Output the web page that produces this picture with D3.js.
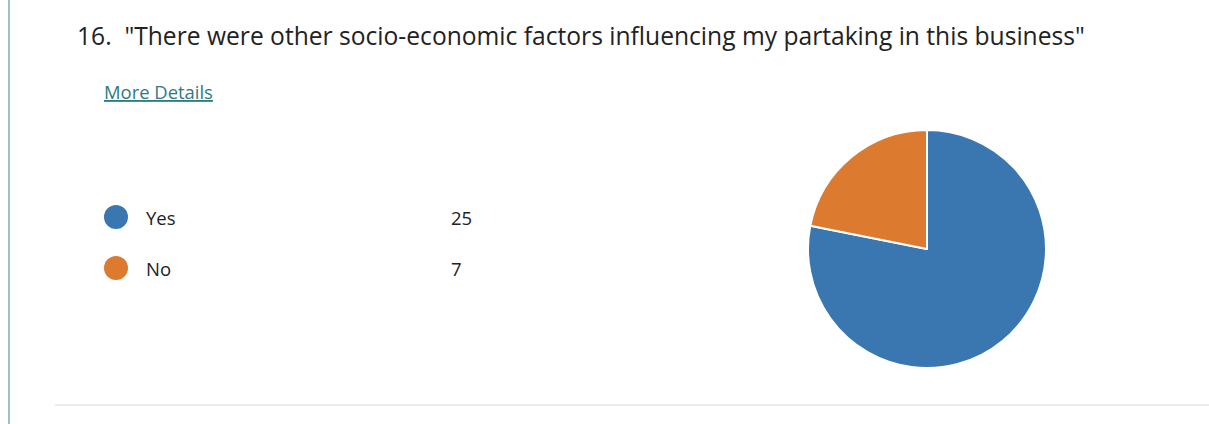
<!DOCTYPE html>
<html><head><meta charset="utf-8">
<script src="https://cdn.jsdelivr.net/npm/d3@7"></script>
<style>html,body{margin:0;padding:0;background:#fff;}</style>
</head><body>
<svg id="chart" width="1209" height="424"></svg>
<script>
const title = '16.  "There were other socio-economic factors influencing my partaking in this business"';
const linkText = "More Details";
const categories = ["Yes", "No"];
const values = [25, 7];
const colors = ["#3a76b0", "#dc7a2f"];

const svg = d3.select("#chart");
const font = "'Open Sans', 'Noto Sans', sans-serif";

// left accent border
svg.append("rect").attr("x", 8).attr("y", 0).attr("width", 2).attr("height", 424).attr("fill", "#9fbfc2");
// bottom divider
svg.append("rect").attr("x", 55).attr("y", 404).attr("width", 1154).attr("height", 2).attr("fill", "#ececec");

// title
const t = svg.append("text").attr("x", 77).attr("y", 45)
  .attr("font-family", font).attr("font-size", 22).attr("fill", "#222")
  .attr("xml:space", "preserve").style("white-space", "pre").text(title);
const tw = t.node().getComputedTextLength();
t.attr("font-size", 22 * 1008 / tw);

// link
const l = svg.append("text").attr("x", 104).attr("y", 99)
  .attr("font-family", font).attr("font-size", 17).attr("fill", "#2e7b80")
  .attr("text-decoration", "underline").text(linkText);
const lw = l.node().getComputedTextLength();
l.attr("font-size", 17 * 109 / lw);

// legend
const y = d3.scalePoint().domain(categories).range([217, 268]);
const leg = svg.append("g").selectAll("g").data(categories).join("g")
  .attr("transform", d => `translate(0,${y(d)})`);
leg.append("circle").attr("cx", 116).attr("r", 12).attr("fill", (d, i) => colors[i]);
leg.append("text").attr("x", 146).attr("y", 7.5).attr("font-family", font).attr("font-size", 18.5)
  .attr("fill", "#222").text(d => d);
leg.append("text").attr("x", 451).attr("y", 7.5).attr("font-family", font).attr("font-size", 18.5)
  .attr("fill", "#222").text((d, i) => values[i]);

// pie
const pie = d3.pie().sort(null).value(d => d)(values);
const arc = d3.arc().innerRadius(0).outerRadius(119);
svg.append("g").attr("transform", "translate(927,249)")
  .selectAll("path").data(pie).join("path")
  .attr("d", arc).attr("fill", (d, i) => colors[i])
  .attr("stroke", "#fff").attr("stroke-width", 2).attr("stroke-linejoin", "round");
</script>
</body></html>
